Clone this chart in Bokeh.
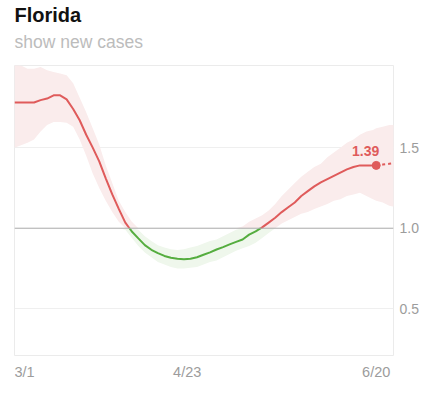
import pandas as pd
from bokeh.plotting import figure
from bokeh.layouts import column
from bokeh.models import Range1d, Span, Label, FixedTicker, NumeralTickFormatter
from bokeh.core.properties import value
from bokeh.embed import file_html
from bokeh.resources import INLINE

# ---- data ----
start_date = "2020-03-01"
day = list(range(0, 111, 2)) + [111]          # days since 3/1, last = 6/20
rt = [1.78, 1.78, 1.78, 1.78, 1.795, 1.805, 1.825, 1.825, 1.80, 1.74,
      1.67, 1.58, 1.50, 1.415, 1.31, 1.21, 1.12, 1.035, 0.98, 0.937,
      0.895, 0.866, 0.845, 0.828, 0.817, 0.81, 0.808, 0.81, 0.82, 0.835,
      0.85, 0.868, 0.883, 0.90, 0.915, 0.93, 0.96, 0.98, 1.005, 1.035,
      1.065, 1.10, 1.13, 1.16, 1.20, 1.23, 1.26, 1.285, 1.305, 1.325,
      1.345, 1.365, 1.38, 1.39, 1.39, 1.39, 1.39]
upper = [2.02, 2.01, 1.99, 1.99, 2.00, 1.98, 1.97, 1.96, 1.95, 1.90,
         1.81, 1.72, 1.62, 1.52, 1.39, 1.28, 1.17, 1.10, 1.04, 0.99,
         0.95, 0.92, 0.895, 0.88, 0.87, 0.865, 0.87, 0.88, 0.89, 0.905,
         0.92, 0.93, 0.95, 0.97, 0.99, 1.01, 1.04, 1.06, 1.08, 1.11,
         1.15, 1.20, 1.24, 1.28, 1.32, 1.35, 1.38, 1.40, 1.44, 1.47,
         1.50, 1.53, 1.55, 1.58, 1.60, 1.61, 1.62]
lower = [1.50, 1.515, 1.53, 1.55, 1.60, 1.64, 1.66, 1.66, 1.655, 1.63,
         1.55, 1.45, 1.34, 1.25, 1.17, 1.10, 1.04, 0.99, 0.94, 0.89,
         0.85, 0.82, 0.79, 0.775, 0.76, 0.75, 0.75, 0.755, 0.76, 0.775,
         0.79, 0.80, 0.82, 0.84, 0.86, 0.875, 0.89, 0.91, 0.94, 0.97,
         1.00, 1.03, 1.05, 1.07, 1.09, 1.10, 1.12, 1.135, 1.15, 1.17,
         1.18, 1.20, 1.21, 1.22, 1.20, 1.18, 1.17]

# projection beyond the last day
fc_day = [111, 113, 115, 117]
fc_rt = [1.39, 1.395, 1.40, 1.405]
fc_upper = [1.62, 1.63, 1.64, 1.64]
fc_lower = [1.17, 1.16, 1.14, 1.13]

tick_dates = ["2020-03-01", "2020-04-23", "2020-06-20"]
tick_labels = ["3/1", "4/23", "6/20"]
tick_align = ["left", "center", "center"]
y_ticks = [0.5, 1.0, 1.5]

title_text = "Florida"
subtitle_text = "show new cases"

RED = "#df5b5b"
GREEN = "#55ad3f"
PINK = "#faecec"
LGREEN = "#eff7ec"
FONT = "Liberation Sans"
XR = Range1d(0, 116.3)
W = 431
BL, BR = 14, 38

# ---- title strip (frame aligned with the chart frame) ----
r = figure(width=W, height=64, output_backend="svg", toolbar_location=None,
           x_range=Range1d(0, W - BL - BR), y_range=Range1d(64, 0),
           x_axis_location=None, y_axis_location=None,
           min_border_left=BL, min_border_right=BR, min_border_top=0, min_border_bottom=0)
r.outline_line_color = None
r.grid.visible = False
r.text(x=[0], y=[14], text=[title_text], text_font=value(FONT), text_font_size="20px",
       text_font_style="bold", text_color="#111111", text_baseline="alphabetic")
r.text(x=[0], y=[41], text=[subtitle_text], text_font=value(FONT), text_font_size="17.5px",
       text_color="#bcbcbc", text_baseline="alphabetic")

# ---- main figure ----
p = figure(width=W, height=292, output_backend="svg", toolbar_location=None,
           title=None, x_axis_location=None, y_axis_location="right",
           x_range=XR, y_range=Range1d(0.21, 2.01),
           min_border_left=BL, min_border_right=BR, min_border_top=1,
           min_border_bottom=1)
p.outline_line_color = "#ebebeb"
p.outline_line_width = 1
p.background_fill_color = "white"
p.border_fill_color = "white"

p.xgrid.visible = False
p.ygrid.ticker = FixedTicker(ticks=[t for t in y_ticks if t != 1.0])
p.ygrid.grid_line_color = "#efefef"

ax = p.yaxis[0]
ax.ticker = FixedTicker(ticks=y_ticks)
ax.formatter = NumeralTickFormatter(format="0.0")
ax.axis_line_color = None
ax.major_tick_line_color = None
ax.minor_tick_line_color = None
ax.major_tick_in = 0
ax.major_tick_out = 0
ax.major_label_standoff = 6
ax.major_label_text_color = "#9c9c9c"
ax.major_label_text_font = FONT
ax.major_label_text_font_size = "14px"

# bands split at Rt = 1
all_day = day + fc_day[1:]
all_lo = lower + fc_lower[1:]
all_hi = upper + fc_upper[1:]
p.varea(x=all_day, y1=[max(v, 1.0) for v in all_lo], y2=[max(v, 1.0) for v in all_hi],
        fill_color=PINK)
p.varea(x=all_day, y1=[min(v, 1.0) for v in all_lo], y2=[min(v, 1.0) for v in all_hi],
        fill_color=LGREEN)

p.add_layout(Span(location=1.0, dimension="width", line_color="#a9a9a9", line_width=1))

# line split at Rt = 1
segs = []
cx, cy = [day[0]], [rt[0]]
above = rt[0] >= 1
for i in range(1, len(day)):
    a = rt[i] >= 1
    if a != above:
        t = (1 - rt[i - 1]) / (rt[i] - rt[i - 1])
        xc = day[i - 1] + t * (day[i] - day[i - 1])
        cx.append(xc); cy.append(1.0)
        segs.append((above, cx, cy))
        cx, cy = [xc], [1.0]
        above = a
    cx.append(day[i]); cy.append(rt[i])
segs.append((above, cx, cy))
for a, xs, ys in segs:
    p.line(xs, ys, line_color=RED if a else GREEN, line_width=2)

p.line(fc_day, fc_rt, line_color=RED, line_width=2, line_dash="3 3")
p.scatter([day[-1]], [rt[-1]], size=8, color=RED)

p.add_layout(Label(x=day[-1], y=rt[-1], text=f"{rt[-1]:.2f}", text_font=FONT,
                   text_font_size="14px", text_font_style="bold", text_color=RED,
                   text_align="right", text_baseline="bottom", x_offset=3, y_offset=9))

# ---- x tick label strip ----
q = figure(width=W, height=39, output_backend="svg", toolbar_location=None,
           x_range=XR, y_range=Range1d(39, 0), x_axis_location=None, y_axis_location=None,
           min_border_left=BL, min_border_right=BR, min_border_top=0, min_border_bottom=0)
q.outline_line_color = None
q.grid.visible = False
t0 = pd.Timestamp(start_date)
for d, lab, al in zip(tick_dates, tick_labels, tick_align):
    xd = (pd.Timestamp(d) - t0).days
    q.text(x=[xd], y=[15], text=[lab], text_font=value(FONT), text_font_size="14.5px",
           text_color="#9c9c9c", text_align=al, text_baseline="middle")

layout = column(r, p, q, spacing=0)
open("out.html", "w").write(file_html(layout, INLINE))
